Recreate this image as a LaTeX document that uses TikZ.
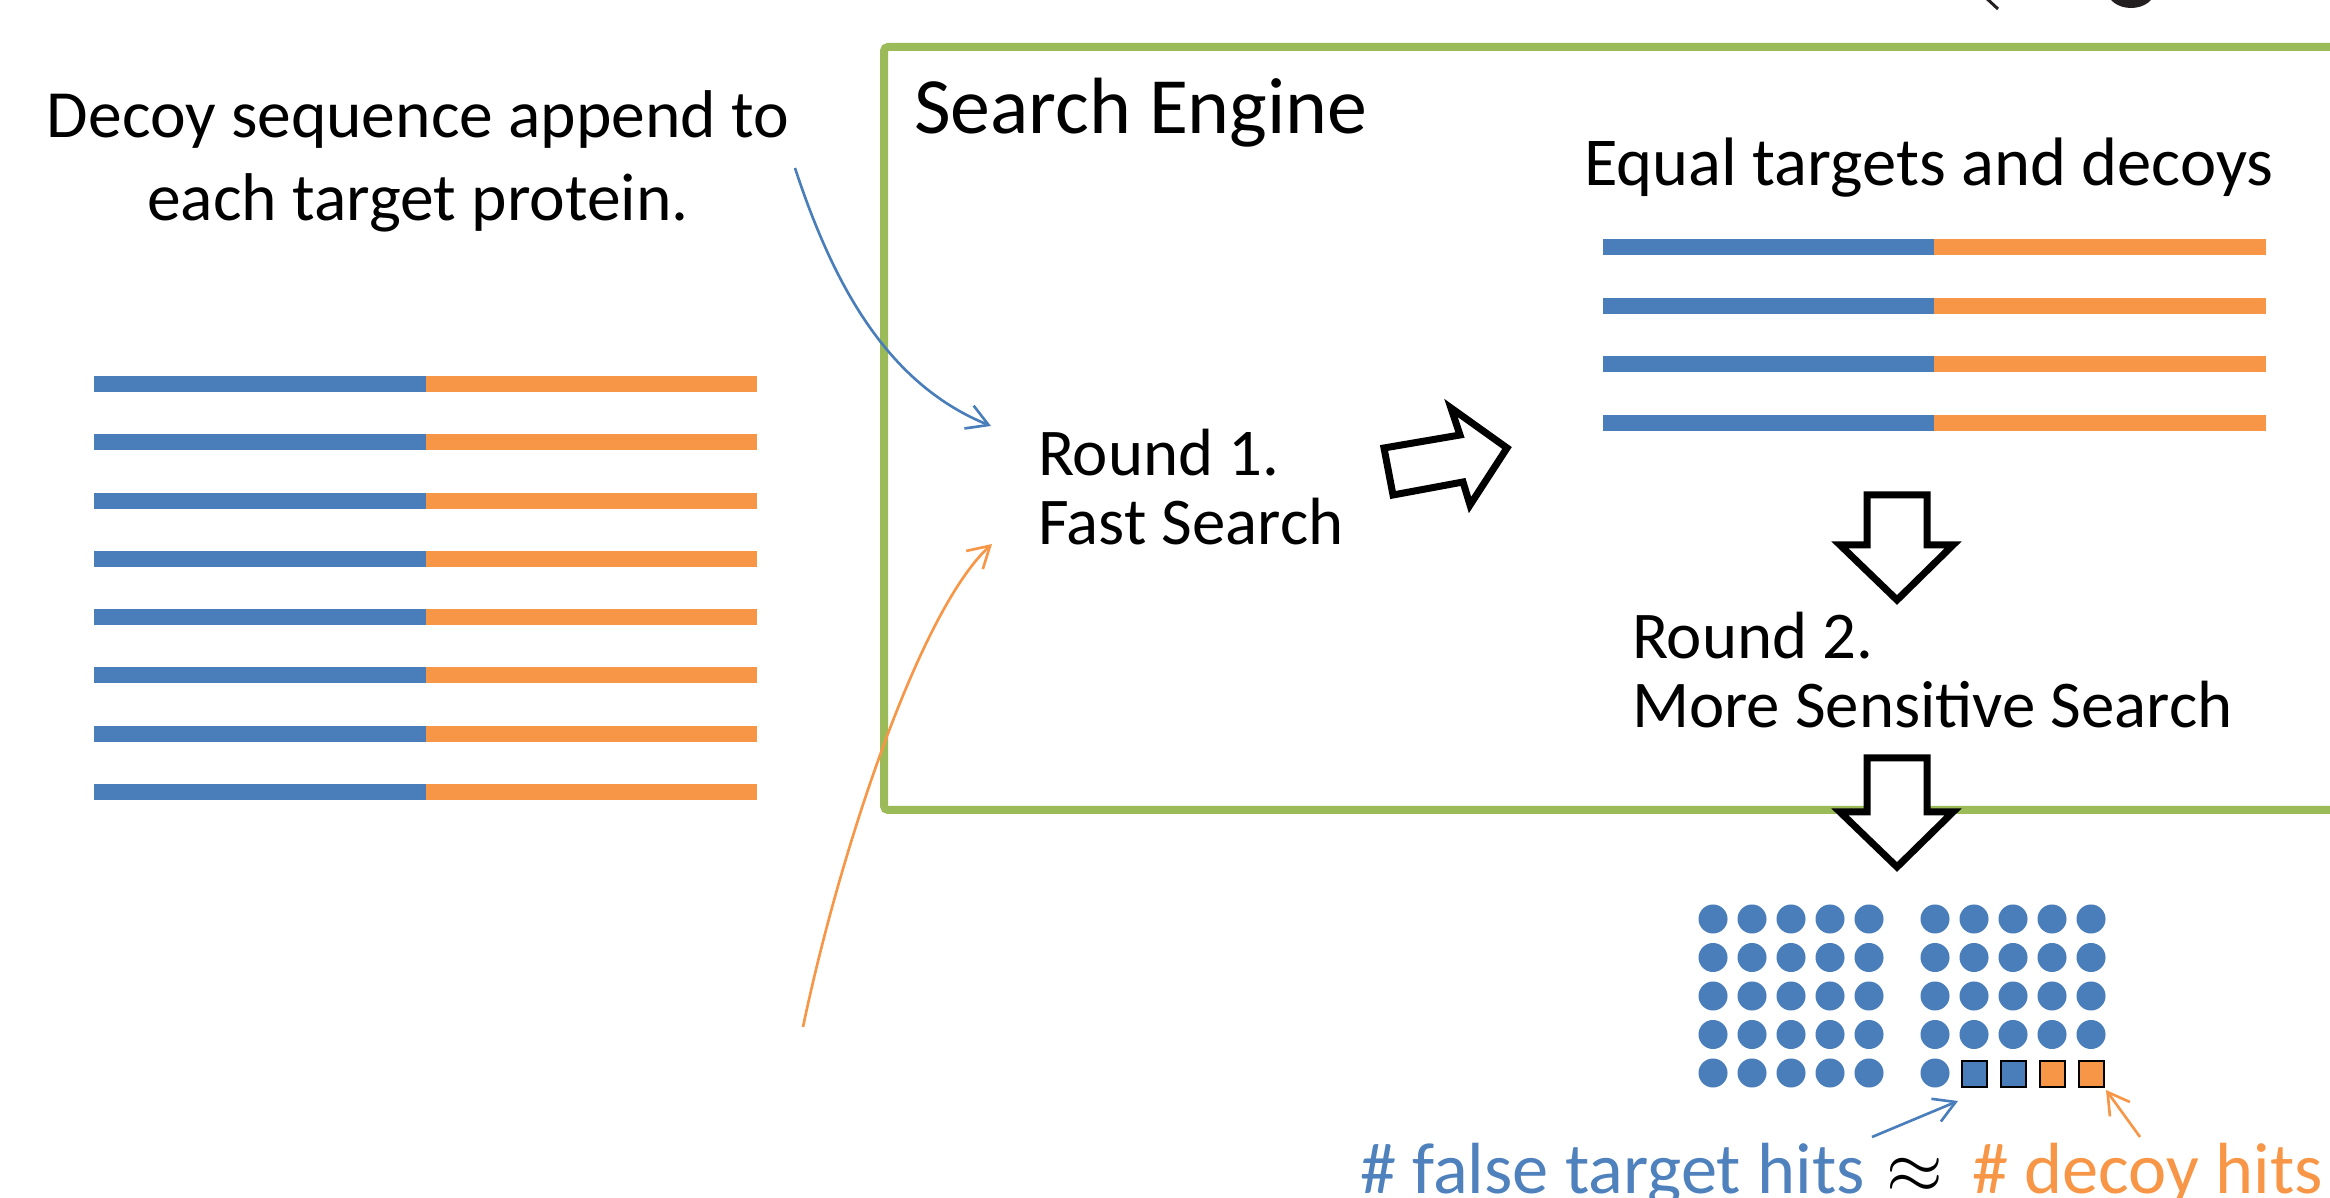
\documentclass[tikz,border=0pt]{standalone}
\usepackage{fontspec}
\setmainfont{Carlito}
\usetikzlibrary{arrows.meta}
\definecolor{tblue}{HTML}{4A7EBB}
\definecolor{torange}{HTML}{F79646}
\definecolor{tgreen}{HTML}{9BBB59}
\definecolor{tblack}{HTML}{231F20}
\definecolor{tbluetxt}{HTML}{4F81BD}
\begin{document}
\begin{tikzpicture}[x=0.01cm,y=-0.01cm,
  txt/.style={inner sep=0pt, outer sep=0pt, font=\fontsize{19.2}{23.6}\selectfont},
  roundtxt/.style={txt, font=\fontsize{19}{19.9}\selectfont, align=left, anchor=base west},
  bluebar/.style={tblue, line width=0.16cm},
  orangebar/.style={torange, line width=0.16cm},
  blockarrow/.style={draw=black, fill=white, line width=0.07cm, line join=miter},
  conn/.style={line width=0.75pt, -{Straight Barb[length=6pt,width=7pt]}},
  dot/.style={fill=tblue},
  hitbox/.style={draw=black, line width=0.6pt}]
\useasboundingbox (0,0) rectangle (2330,1198);

% cropped glyph fragments at top right
\draw[tblack, line width=0.03cm] (1984,-4) -- (1998,9);
\fill[tblack] (2131,-10) ellipse [x radius=0.24cm, y radius=0.18cm];

% search engine frame
\draw[tgreen, line width=0.08cm, rounded corners=0.04cm] (884,47) rectangle (2400,810);

% left text (base anchor = baseline of last line)
\node[txt, align=center, anchor=base] (decoytxt) at (418,221)
  {Decoy sequence append to\\each target protein.};

% left bars
\foreach \i in {0,...,7}{
  \draw[bluebar] (94,{384+58.3*\i}) -- (426,{384+58.3*\i});
  \draw[orangebar] (426,{384+58.3*\i}) -- (757,{384+58.3*\i});
}

% search engine title
\node[txt, font=\fontsize{22.7}{27}\selectfont, anchor=base west] (setitle) at (914,134) {Search Engine};
\node[txt, font=\fontsize{19.5}{23.6}\selectfont, anchor=base west] (eqtxt) at (1584,186) {Equal targets and decoys};

% right bars
\foreach \i in {0,...,3}{
  \draw[bluebar] (1603,{247+58.7*\i}) -- (1934,{247+58.7*\i});
  \draw[orangebar] (1934,{247+58.7*\i}) -- (2266,{247+58.7*\i});
}

% round 1 and round 2
\node[roundtxt] (round1) at (1038,545) {Round 1.\\Fast Search};
\node[roundtxt] (round2) at (1632,728) {Round 2.\\More Sensitive Search};

% block arrows
\draw[blockarrow] (1384,448) -- (1460,435) -- (1451,408) -- (1507,448) -- (1470,505) -- (1463,482) -- (1393,495) -- cycle;
\draw[blockarrow] (1867,495) -- (1927,495) -- (1927,545) -- (1953,545) -- (1897,600) -- (1840,545) -- (1867,545) -- cycle;
\draw[blockarrow] (1867,758) -- (1927,758) -- (1927,812) -- (1953,812) -- (1897,867) -- (1840,812) -- (1867,812) -- cycle;

% curved connectors
\coordinate (bstart) at (795,168);
\coordinate (bend) at (991,426);
\coordinate (ostart) at (803,1027);
\coordinate (oend) at (992,544);
\draw[conn, tblue] (bstart) .. controls (835,290) and (890,385) .. (bend);
\draw[conn, torange] (ostart) .. controls (840,850) and (920,610) .. (oend);

% dots
\foreach \c in {0,...,4}{
  \foreach \r in {0,...,4}{
    \fill[dot] ({1713+39*\c},{919+38.5*\r}) circle (0.145cm);
  }
}
\foreach \c in {0,...,4}{
  \foreach \r in {0,...,3}{
    \fill[dot] ({1935+39*\c},{919+38.5*\r}) circle (0.145cm);
  }
}
\fill[dot] (1935,1073) circle (0.145cm);
\draw[hitbox, fill=tblue] (1962,1061) rectangle (1987,1087);
\draw[hitbox, fill=tblue] (2001,1061) rectangle (2026,1087);
\draw[hitbox, fill=torange] (2040,1061) rectangle (2065,1087);
\draw[hitbox, fill=torange] (2079,1061) rectangle (2104,1087);
\coordinate (hitB) at (1958,1101);
\coordinate (hitD) at (2106,1090);

% bottom labels
\node[txt, font=\fontsize{20.6}{24}\selectfont, text=tbluetxt, anchor=base west] (falsehits) at (1360,1193) {\# false target hits};
\node[txt, font=\fontsize{20.6}{24}\selectfont, anchor=base west] (approx) at (1886,1193) {$\approx$};
\node[txt, font=\fontsize{20.6}{24}\selectfont, text=torange, anchor=base west] (decoyhits) at (1972,1193) {\# decoy hits};
\coordinate (fstart) at (1872,1137);
\coordinate (dstart) at (2140,1137);
\draw[conn, tblue] (fstart) -- (hitB);
\draw[conn, torange] (dstart) -- (hitD);
\end{tikzpicture}
\end{document}
